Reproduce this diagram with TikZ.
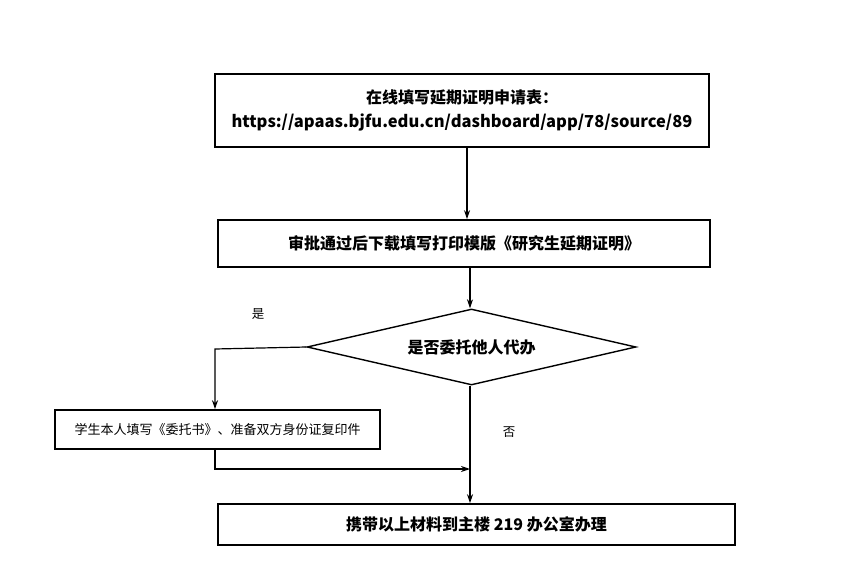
\documentclass[tikz,border=0pt]{standalone}
\usepackage{fontspec}
\setmainfont{Liberation Sans}
\newfontfamily\cjk{Noto Sans CJK SC}
\usetikzlibrary{arrows.meta,shapes.geometric}
\begin{document}
\begin{tikzpicture}[x=1pt,y=-1pt,
  box/.style={draw,line width=1.6pt,inner sep=0pt,font=\cjk\bfseries\fontsize{16}{19}\selectfont},
  arr/.style={-{Stealth[length=9pt,width=6pt]},line width=1.2pt},
  ln/.style={line width=1.2pt}]
\useasboundingbox (0,0) rectangle (843,588);
\node[box,minimum width=494pt,minimum height=73pt,align=center] (b1) at (462,110.5)
  {在线填写延期证明申请表：\\[5pt]{\bfseries\fontsize{16.5}{19}\selectfont https://apaas.bjfu.edu.cn/dashboard/app/78/source/89}};
\node[box,minimum width=492pt,minimum height=47pt] (b2) at (464,243.5) {审批通过后下载填写打印模版《研究生延期证明》};
\node[draw,line width=1.4pt,diamond,aspect=4.4,minimum width=329pt,minimum height=76pt,inner sep=0pt,font=\cjk\bfseries\fontsize{16}{19}\selectfont] (d) at (471.5,347) {是否委托他人代办};
\node[box,minimum width=325pt,minimum height=39pt,font=\cjk\fontsize{13}{15}\selectfont] (b3) at (217.5,429.5) {学生本人填写《委托书》、准备双方身份证复印件};
\node[box,minimum width=517pt,minimum height=41pt] (b4) at (476.5,524.5) {携带以上材料到主楼 219 办公室办理};
\node[font=\cjk\fontsize{12.5}{15}\selectfont] (yes) at (258,314) {是};
\node[font=\cjk\fontsize{12.5}{15}\selectfont] (no) at (509,432) {否};
\coordinate (c1) at (215,349);
\coordinate (c2) at (215,469);
\coordinate (c3) at (470,469);
\draw[arr] (b1.south -| 467,0) -- (b2.north -| 467,0);
\draw[arr] (b2.south -| 470,0) -- (d.north -| 470,0);
\draw[arr] (d.west) -- (c1) -- (b3.north -| c1);
\draw[arr] (d.south -| 470,0) -- (b4.north -| 470,0);
\draw[arr] (b3.south -| c2) -- (c2) -- (c3);
\end{tikzpicture}
\end{document}
